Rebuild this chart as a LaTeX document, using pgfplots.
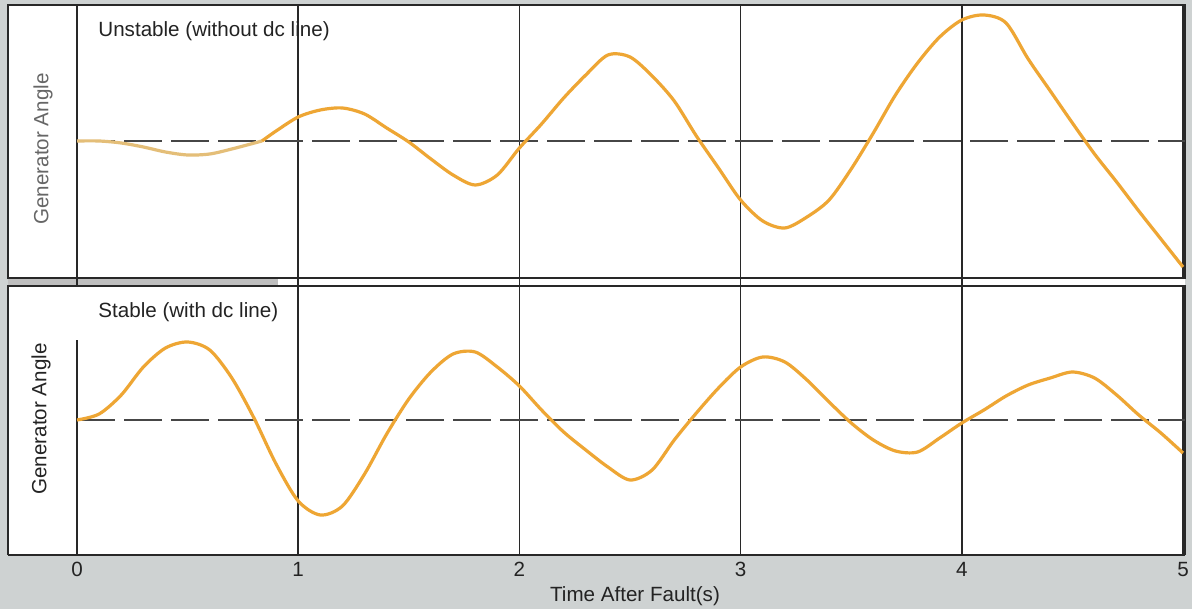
\documentclass[border=0pt]{standalone}
\usepackage{pgfplots}
\usepackage{pgfplotstable}
\pgfplotsset{compat=1.18}
\usepackage{fontspec}
\setmainfont{Liberation Sans}
\definecolor{bggray}{RGB}{206,210,210}
\definecolor{curve}{RGB}{238,166,52}
\definecolor{faded}{RGB}{228,190,120}
\definecolor{gridc}{RGB}{40,40,40}
\definecolor{dashc}{RGB}{70,70,70}
\definecolor{txt}{RGB}{35,35,35}

\pgfplotstableread{
t y
0.000 0
0.100 0
0.200 -2
0.300 -6
0.400 -11
0.500 -14
0.600 -13
0.700 -8
0.836 0
}\topfaded

\pgfplotstableread{
t y
0.836 0
0.900 10
1.000 24
1.100 31
1.200 33
1.300 27
1.400 13
1.500 -1
1.600 -18
1.700 -34
1.800 -44
1.900 -34
2.000 -7
2.100 17
2.200 43
2.300 66
2.400 86
2.500 84
2.600 65
2.700 40
2.800 5
2.900 -27
3.000 -59
3.100 -80
3.200 -87
3.300 -76
3.400 -59
3.500 -28
3.600 8
3.700 46
3.800 78
3.900 104
4.000 121
4.100 126
4.200 118
4.300 82
4.400 50
4.500 18
4.600 -13
4.700 -41
4.800 -70
4.900 -98
5.000 -126
}\topmain

\pgfplotstableread{
t y
0.000 0
0.100 6
0.200 25
0.300 53
0.400 72
0.500 78
0.600 70
0.700 42
0.800 2
0.900 -44
1.000 -81
1.100 -95
1.200 -86
1.300 -54
1.400 -14
1.500 21
1.600 48
1.700 66
1.800 68
1.900 53
2.000 34
2.100 10
2.200 -12
2.300 -30
2.400 -47
2.500 -60
2.600 -50
2.700 -20
2.800 7
2.900 32
3.000 53
3.100 63
3.200 58
3.300 40
3.400 18
3.500 -3
3.600 -20
3.700 -31
3.800 -32
3.900 -18
4.000 -3
4.100 10
4.200 24
4.300 35
4.400 42
4.500 48
4.600 42
4.700 25
4.800 5
4.900 -13
5.000 -33
}\bottommain

\newcommand{\lblfont}{\fontsize{10.3}{12}\selectfont}

\begin{document}
\begin{tikzpicture}[x=1pt,y=1pt]
\fill[bggray] (0,0) rectangle (596,304.5);
\useasboundingbox (0,0) rectangle (596,304.5);
\fill[white] (4,27) rectangle (592.5,302);
\fill[black!25] (4,162) rectangle (139,165);

\pgfplotsset{panel/.style={
  width=588.5pt, scale only axis,
  xmin=-0.312, xmax=5.009,
  axis line style={gridc, line width=0.7pt},
  xtick={0,1,2,3,4,5}, ytick=\empty, major tick length=0pt,
  xmajorgrids, grid style={gridc, line width=0.75pt},
  axis background/.style={fill=white},
}}

% Top panel
\begin{axis}[panel, at={(4pt,165.5pt)}, anchor=south west, height=136.5pt,
  ymin=-137, ymax=136, xticklabels={}]
\addplot[dashc, line width=1pt, dash pattern=on 19pt off 4.5pt] coordinates {(0,0) (5.009,0)};
\addplot[faded, line width=1.6pt, smooth] table[x=t,y=y] {\topfaded};
\addplot[curve, line width=1.6pt, smooth] table[x=t,y=y] {\topmain};
\end{axis}

% Bottom panel
\begin{axis}[panel, at={(4pt,27pt)}, anchor=south west, height=134.5pt,
  ymin=-135, ymax=134, clip=false,
  xticklabels={0,1,2,3,4,5},
  /pgf/number format/assume math mode=true,
  xticklabel style={font=\lblfont, text=txt, yshift=0pt},
  axis x line*=bottom, axis y line*=none]
\fill[white] (axis cs:-0.02,80) rectangle (axis cs:0.02,133.5);
\draw[gridc, line width=0.7pt] (axis cs:-0.312,-135) -- (axis cs:-0.312,134) -- (axis cs:5.009,134) -- (axis cs:5.009,-135);
\draw[gridc, line width=1pt] (axis cs:-0.312,-135) -- (axis cs:5.009,-135);
\addplot[dashc, line width=1pt, dash pattern=on 19pt off 4.5pt] coordinates {(0,0) (5.009,0)};
\addplot[curve, line width=1.6pt, smooth] table[x=t,y=y] {\bottommain};
\draw[gridc, line width=0.75pt] (axis cs:0,134) -- (axis cs:0,142);
\draw[gridc, line width=0.75pt] (axis cs:1,134) -- (axis cs:1,142);
\draw[gridc, line width=0.75pt] (axis cs:2,134) -- (axis cs:2,142);
\draw[gridc, line width=0.75pt] (axis cs:3,134) -- (axis cs:3,142);
\draw[gridc, line width=0.75pt] (axis cs:4,134) -- (axis cs:4,142);
\end{axis}

\node[font=\lblfont, text=txt, anchor=base west, inner sep=0pt] at (49,286) {Unstable (without dc line)};
\node[font=\lblfont, text=txt, anchor=base west, inner sep=0pt] at (49,145.5) {Stable (with dc line)};
\node[font=\lblfont, text=black!60, rotate=90] at (21.5,230) {Generator Angle};
\node[font=\lblfont, text=txt, rotate=90] at (20.5,95) {Generator Angle};
\node[font=\lblfont, text=txt] at (317.5,6.5) {Time After Fault(s)};
\end{tikzpicture}
\end{document}
